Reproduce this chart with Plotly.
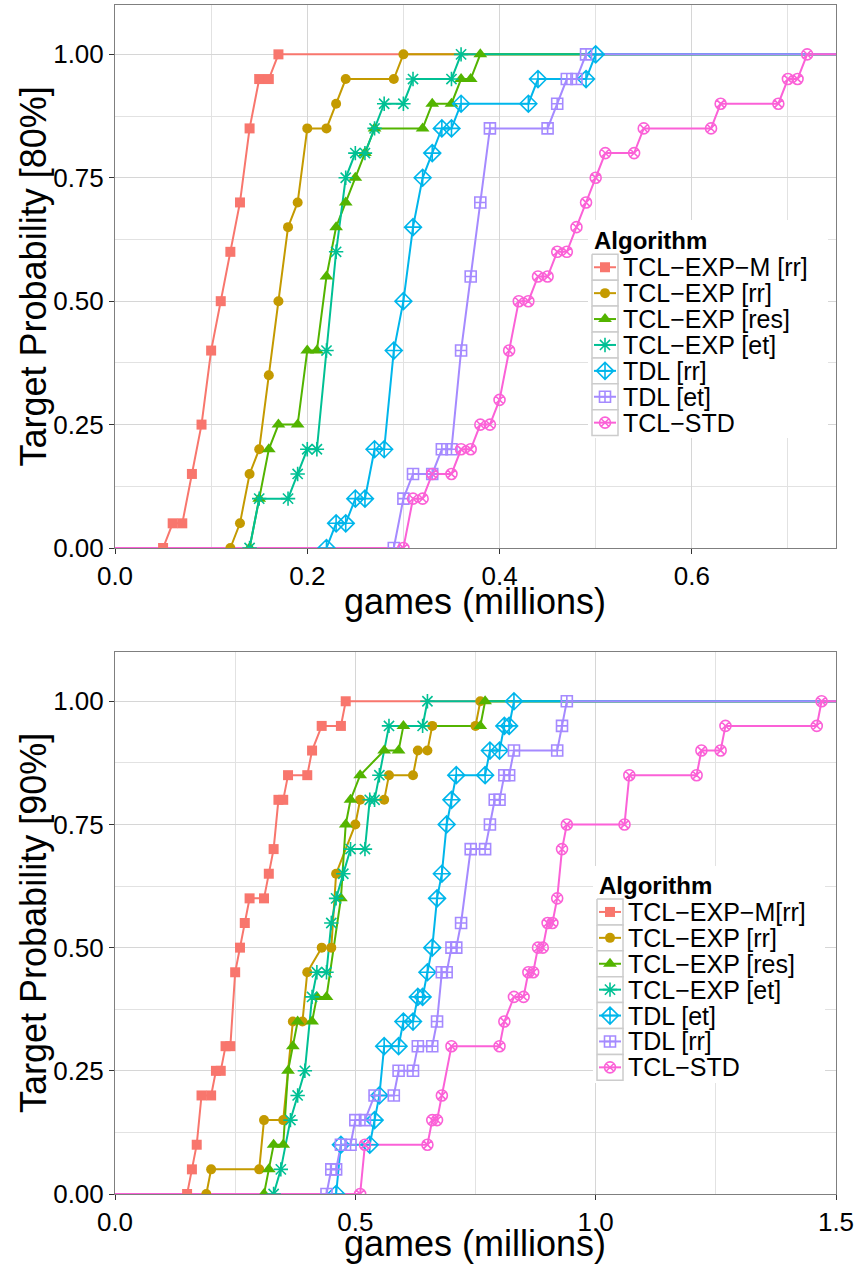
import plotly.graph_objects as go

W, H = 859, 1267
FONT = "Liberation Sans, Arial, sans-serif"

# ---------------- data: panel 1 (80% target) ----------------
p1_names = ["TCL−EXP−M [rr]", "TCL−EXP [rr]", "TCL−EXP [res]", "TCL−EXP [et]",
            "TDL [rr]", "TDL [et]", "TCL−STD"]

p1_tclexpm_rr_x = [0.05, 0.06, 0.07, 0.08, 0.09, 0.10, 0.11, 0.12, 0.13, 0.14, 0.15, 0.16, 0.17]
p1_tclexpm_rr_y = [0, 0.05, 0.05, 0.15, 0.25, 0.40, 0.50, 0.60, 0.70, 0.85, 0.95, 0.95, 1.0]

p1_tclexp_rr_x = [0.12, 0.13, 0.14, 0.15, 0.16, 0.17, 0.18, 0.19, 0.20, 0.22, 0.23, 0.24, 0.29, 0.30]
p1_tclexp_rr_y = [0, 0.05, 0.15, 0.20, 0.35, 0.50, 0.65, 0.70, 0.85, 0.85, 0.90, 0.95, 0.95, 1.0]

p1_tclexp_res_x = [0.14, 0.15, 0.16, 0.17, 0.19, 0.20, 0.21, 0.22, 0.23, 0.24, 0.25, 0.26, 0.27,
                   0.32, 0.33, 0.35, 0.36, 0.37, 0.38]
p1_tclexp_res_y = [0, 0.10, 0.20, 0.25, 0.25, 0.40, 0.40, 0.55, 0.65, 0.70, 0.75, 0.80, 0.85,
                   0.85, 0.90, 0.90, 0.95, 0.95, 1.0]

p1_tclexp_et_x = [0.14, 0.15, 0.18, 0.19, 0.20, 0.21, 0.22, 0.23, 0.24, 0.25, 0.26, 0.27, 0.28,
                  0.30, 0.31, 0.35, 0.36]
p1_tclexp_et_y = [0, 0.10, 0.10, 0.15, 0.20, 0.20, 0.40, 0.60, 0.75, 0.80, 0.80, 0.85, 0.90,
                  0.90, 0.95, 0.95, 1.0]

p1_tdl_rr_x = [0.22, 0.23, 0.24, 0.25, 0.26, 0.27, 0.28, 0.29, 0.30, 0.31, 0.32, 0.33, 0.34,
               0.35, 0.36, 0.43, 0.44, 0.49, 0.50]
p1_tdl_rr_y = [0, 0.05, 0.05, 0.10, 0.10, 0.20, 0.20, 0.40, 0.50, 0.65, 0.75, 0.80, 0.85,
               0.85, 0.90, 0.90, 0.95, 0.95, 1.0]

p1_tdl_et_x = [0.29, 0.30, 0.31, 0.33, 0.34, 0.35, 0.36, 0.37, 0.38, 0.39, 0.45, 0.46, 0.47, 0.48, 0.49]
p1_tdl_et_y = [0, 0.10, 0.15, 0.15, 0.20, 0.20, 0.40, 0.55, 0.70, 0.85, 0.85, 0.90, 0.95, 0.95, 1.0]

p1_tclstd_x = [0.30, 0.31, 0.32, 0.33, 0.35, 0.36, 0.37, 0.38, 0.39, 0.40, 0.41, 0.42, 0.43, 0.44,
               0.45, 0.46, 0.47, 0.48, 0.49, 0.50, 0.51, 0.54, 0.55, 0.62, 0.63, 0.69, 0.70, 0.71, 0.72]
p1_tclstd_y = [0, 0.10, 0.10, 0.15, 0.15, 0.20, 0.20, 0.25, 0.25, 0.30, 0.40, 0.50, 0.50, 0.55,
               0.55, 0.60, 0.60, 0.65, 0.70, 0.75, 0.80, 0.80, 0.85, 0.85, 0.90, 0.90, 0.95, 0.95, 1.0]

# ---------------- data: panel 2 (90% target) ----------------
p2_names = ["TCL−EXP−M[rr]", "TCL−EXP [rr]", "TCL−EXP [res]", "TCL−EXP [et]",
            "TDL [et]", "TDL [rr]", "TCL−STD"]

p2_tclexpm_rr_x = [0.15, 0.16, 0.17, 0.18, 0.20, 0.21, 0.22, 0.23, 0.24, 0.25, 0.26, 0.27, 0.28,
                   0.31, 0.32, 0.33, 0.34, 0.35, 0.36, 0.40, 0.41, 0.43, 0.47, 0.48]
p2_tclexpm_rr_y = [0, 0.05, 0.10, 0.20, 0.20, 0.25, 0.25, 0.30, 0.30, 0.45, 0.50, 0.55, 0.60,
                   0.60, 0.65, 0.70, 0.80, 0.80, 0.85, 0.85, 0.90, 0.95, 0.95, 1.0]

p2_tclexp_rr_x = [0.19, 0.20, 0.30, 0.31, 0.35, 0.37, 0.39, 0.40, 0.43, 0.45, 0.46, 0.50, 0.51,
                  0.56, 0.57, 0.62, 0.63, 0.65, 0.66, 0.75, 0.76]
p2_tclexp_rr_y = [0, 0.05, 0.05, 0.15, 0.15, 0.35, 0.35, 0.45, 0.50, 0.50, 0.65, 0.75, 0.80,
                  0.80, 0.85, 0.85, 0.90, 0.90, 0.95, 0.95, 1.0]

p2_tclexp_res_x = [0.31, 0.32, 0.33, 0.35, 0.36, 0.37, 0.38, 0.41, 0.42, 0.44, 0.47, 0.48, 0.49,
                   0.51, 0.56, 0.59, 0.60, 0.76, 0.77]
p2_tclexp_res_y = [0, 0.05, 0.10, 0.10, 0.25, 0.30, 0.35, 0.35, 0.40, 0.40, 0.60, 0.75, 0.80,
                   0.85, 0.90, 0.90, 0.95, 0.95, 1.0]

p2_tclexp_et_x = [0.33, 0.345, 0.365, 0.38, 0.395, 0.41, 0.42, 0.44, 0.45, 0.46, 0.475, 0.49, 0.52,
                  0.53, 0.54, 0.55, 0.57, 0.64, 0.65]
p2_tclexp_et_y = [0, 0.05, 0.15, 0.20, 0.25, 0.40, 0.45, 0.45, 0.55, 0.60, 0.65, 0.70, 0.70,
                  0.80, 0.80, 0.85, 0.95, 0.95, 1.0]

p2_tdl_et_x = [0.46, 0.47, 0.53, 0.54, 0.55, 0.56, 0.59, 0.60, 0.62, 0.63, 0.64, 0.65, 0.66, 0.67,
               0.68, 0.69, 0.70, 0.71, 0.77, 0.78, 0.80, 0.81, 0.82, 0.83]
p2_tdl_et_y = [0, 0.10, 0.10, 0.15, 0.20, 0.30, 0.30, 0.35, 0.35, 0.40, 0.40, 0.45, 0.50, 0.60,
               0.65, 0.75, 0.80, 0.85, 0.85, 0.90, 0.90, 0.95, 0.95, 1.0]

p2_tdl_rr_x = [0.44, 0.45, 0.46, 0.47, 0.49, 0.50, 0.52, 0.54, 0.58, 0.59, 0.62, 0.63, 0.66, 0.67,
               0.68, 0.69, 0.70, 0.71, 0.72, 0.74, 0.77, 0.78, 0.79, 0.80, 0.81, 0.82, 0.83, 0.92,
               0.93, 0.94]
p2_tdl_rr_y = [0, 0.05, 0.05, 0.10, 0.10, 0.15, 0.15, 0.20, 0.20, 0.25, 0.25, 0.30, 0.30, 0.35,
               0.45, 0.45, 0.50, 0.50, 0.55, 0.70, 0.70, 0.75, 0.80, 0.80, 0.85, 0.85, 0.90, 0.90,
               0.95, 1.0]

p2_tclstd_x = [0.51, 0.52, 0.65, 0.66, 0.67, 0.68, 0.70, 0.80, 0.81, 0.83, 0.85, 0.86, 0.87, 0.88,
               0.89, 0.90, 0.91, 0.92, 0.93, 0.94, 1.06, 1.07, 1.21, 1.22, 1.26, 1.27, 1.46, 1.47]
p2_tclstd_y = [0, 0.10, 0.10, 0.15, 0.15, 0.20, 0.30, 0.30, 0.35, 0.40, 0.40, 0.45, 0.45, 0.50,
               0.50, 0.55, 0.55, 0.60, 0.70, 0.75, 0.75, 0.85, 0.85, 0.90, 0.90, 0.95, 0.95, 1.0]

# ---------------- styling ----------------
colors = ["#F8766D", "#C49A00", "#53B400", "#00C094", "#00B6EB", "#A58AFF", "#FB61D7"]
p1_symbols = ["square", "circle", "triangle-up", "asterisk-open",
              "diamond-cross-open", "square-cross-open", "circle-x-open"]
p2_symbols = ["square", "circle", "triangle-up", "asterisk-open",
              "diamond-cross-open", "square-cross-open", "circle-x-open"]
sym_size = {"square": 10, "circle": 10, "triangle-up": 12, "asterisk-open": 12,
            "diamond-cross-open": 13, "square-cross-open": 11, "circle-x-open": 11}

p1_series = [(p1_tclexpm_rr_x, p1_tclexpm_rr_y), (p1_tclexp_rr_x, p1_tclexp_rr_y),
             (p1_tclexp_res_x, p1_tclexp_res_y), (p1_tclexp_et_x, p1_tclexp_et_y),
             (p1_tdl_rr_x, p1_tdl_rr_y), (p1_tdl_et_x, p1_tdl_et_y), (p1_tclstd_x, p1_tclstd_y)]
p2_series = [(p2_tclexpm_rr_x, p2_tclexpm_rr_y), (p2_tclexp_rr_x, p2_tclexp_rr_y),
             (p2_tclexp_res_x, p2_tclexp_res_y), (p2_tclexp_et_x, p2_tclexp_et_y),
             (p2_tdl_et_x, p2_tdl_et_y), (p2_tdl_rr_x, p2_tdl_rr_y), (p2_tclstd_x, p2_tclstd_y)]

p1_xrange = [0, 0.75]
p2_xrange = [0, 1.5]
yrange = [0, 1.1]

# panel boxes in pixels (left, top, right, bottom)
p1_box = (115, 5, 836, 548)
p2_box = (115, 652, 836, 1194)


def px_x(v):
    return v / W


def px_y(v):
    return 1 - v / H


fig = go.Figure()


def marker_style(sym, color):
    open_sym = sym.endswith("open")
    return dict(symbol=sym, size=sym_size[sym], color=color,
                line=dict(color=color, width=1.6 if open_sym else 0))


def add_panel(series, symbols, xr, xa, ya):
    # lines first (run from the axis origin to the right edge), then points on top
    for (xs, ys), c in zip(series, colors):
        fig.add_trace(go.Scatter(x=[xr[0]] + list(xs) + [xr[1]],
                                 y=[0] + list(ys) + [1],
                                 mode="lines", line=dict(color=c, width=2),
                                 xaxis=xa, yaxis=ya, hoverinfo="skip"))
    for (xs, ys), c, s in zip(series, colors, symbols):
        fig.add_trace(go.Scatter(x=xs, y=ys, mode="markers",
                                 marker=marker_style(s, c),
                                 xaxis=xa, yaxis=ya, hoverinfo="skip"))


add_panel(p1_series, p1_symbols, p1_xrange, "x", "y")
add_panel(p2_series, p2_symbols, p2_xrange, "x2", "y2")

# ---------------- legends (drawn on a pixel-space overlay axis) ----------------
annotations = []


def rect_trace(x0, y0, x1, y1, fill, line_color, lw):
    return go.Scatter(x=[x0, x1, x1, x0, x0], y=[y0, y0, y1, y1, y0], mode="lines",
                      fill="toself", fillcolor=fill,
                      line=dict(color=line_color, width=lw),
                      xaxis="x3", yaxis="y3", hoverinfo="skip")


def add_legend(names, symbols, left, title_y, rows_top, bg):
    row_h, key_w = 25.9, 26
    fig.add_trace(rect_trace(*bg, "white", "rgba(0,0,0,0)", 0))
    annotations.append(dict(x=px_x(left), y=px_y(title_y), xref="paper", yref="paper",
                            text="<b>Algorithm</b>", showarrow=False, xanchor="left",
                            yanchor="middle", font=dict(size=24, color="black", family=FONT)))
    for i, (n, s, c) in enumerate(zip(names, symbols, colors)):
        t = rows_top + i * row_h
        cy = t + row_h / 2
        fig.add_trace(rect_trace(left, t, left + key_w, t + row_h, "white", "#cccccc", 1.5))
        fig.add_trace(go.Scatter(x=[left + 2, left + key_w - 2], y=[cy, cy], mode="lines",
                                 line=dict(color=c, width=2), xaxis="x3", yaxis="y3",
                                 hoverinfo="skip"))
        fig.add_trace(go.Scatter(x=[left + key_w / 2], y=[cy], mode="markers",
                                 marker=marker_style(s, c), xaxis="x3", yaxis="y3",
                                 hoverinfo="skip"))
        annotations.append(dict(x=px_x(left + key_w + 3), y=px_y(cy), xref="paper", yref="paper",
                                text=n, showarrow=False, xanchor="left", yanchor="middle",
                                font=dict(size=25, color="black", family=FONT)))


add_legend(p1_names, p1_symbols, 592, 240, 254.3, (588, 220, 828, 438))
add_legend(p2_names, p2_symbols, 597, 885, 899, (593, 866, 825, 1083))

# ---------------- axis titles ----------------
for box, ylab, gap in ((p1_box, "Target Probability [80%]", 53),
                       (p2_box, "Target Probability [90%]", 49)):
    l, t, r, b = box
    annotations.append(dict(x=px_x((l + r) / 2), y=px_y(b + gap), xref="paper", yref="paper",
                            text="games (millions)", showarrow=False, xanchor="center",
                            yanchor="middle", borderpad=0,
                            font=dict(size=36, color="black", family=FONT)))
    annotations.append(dict(x=px_x(33), y=px_y((t + b) / 2), xref="paper", yref="paper",
                            text=ylab, textangle=-90, showarrow=False, xanchor="center",
                            yanchor="middle", borderpad=0,
                            font=dict(size=36, color="black", family=FONT)))

axis_common = dict(showline=True, mirror=True, linecolor="#7f7f7f", linewidth=1,
                   ticks="outside", ticklen=5, tickwidth=1, tickcolor="#333333",
                   showgrid=True, gridcolor="#d6d6d6", gridwidth=1.2, zeroline=False,
                   tickfont=dict(size=26, color="black", family=FONT), fixedrange=True,
                   layer="above traces", automargin=False)


def xaxis(box, xr, dtick, minor, anchor):
    l, t, r, b = box
    return dict(axis_common, domain=[px_x(l), px_x(r)], range=xr, tick0=0, dtick=dtick,
                tickformat=".1f", anchor=anchor,
                minor=dict(dtick=minor, showgrid=True, gridcolor="#e2e2e2", gridwidth=1,
                           ticks=""))


def yaxis(box, anchor):
    l, t, r, b = box
    return dict(axis_common, domain=[px_y(b), px_y(t)], range=yrange, tick0=0, dtick=0.25,
                tickformat=".2f", anchor=anchor,
                minor=dict(dtick=0.125, showgrid=True, gridcolor="#e2e2e2", gridwidth=1,
                           ticks=""))


fig.update_layout(
    template="none",
    width=W, height=H, autosize=False, margin=dict(l=0, r=0, t=0, b=0, pad=0),
    paper_bgcolor="white", plot_bgcolor="rgba(0,0,0,0)", showlegend=False,
    font=dict(family=FONT, color="black"),
    xaxis=xaxis(p1_box, p1_xrange, 0.2, 0.1, "y"),
    yaxis=yaxis(p1_box, "x"),
    xaxis2=xaxis(p2_box, p2_xrange, 0.5, 0.25, "y2"),
    yaxis2=yaxis(p2_box, "x2"),
    xaxis3=dict(domain=[0, 1], range=[0, W], visible=False, fixedrange=True, anchor="y3",
                automargin=False),
    yaxis3=dict(domain=[0, 1], range=[H, 0], visible=False, fixedrange=True, anchor="x3",
                automargin=False),
    annotations=annotations,
)

fig.write_html("out.html", config={"responsive": False})
